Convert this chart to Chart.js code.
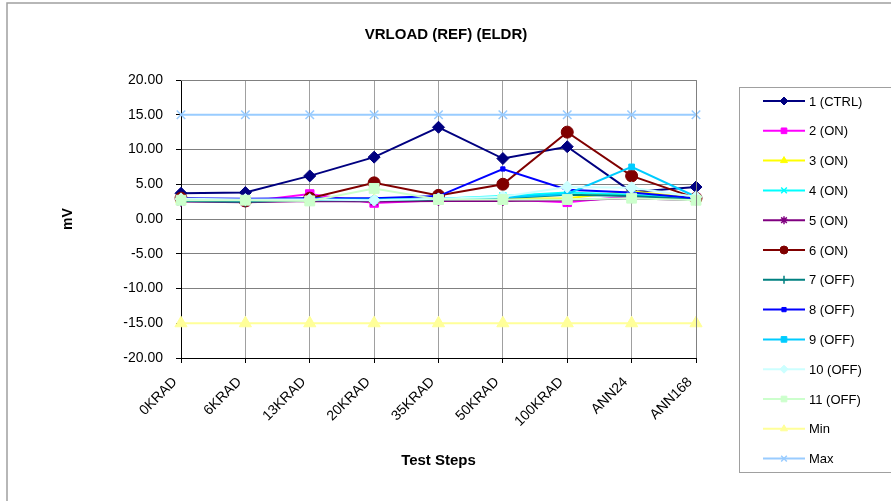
<!DOCTYPE html>
<html>
<head>
<meta charset="utf-8">
<script src="https://cdn.jsdelivr.net/npm/chart.js@4.4.1/dist/chart.umd.min.js"></script>
<style>
  html, body { margin: 0; padding: 0; background: #fff; }
  #wrap { position: relative; width: 891px; height: 501px; }
</style>
</head>
<body>
<div id="wrap"><canvas id="chart"></canvas></div>
<script>
const steps = ['0KRAD', '6KRAD', '13KRAD', '20KRAD', '35KRAD', '50KRAD', '100KRAD', 'ANN24', 'ANN168'];
const yTicks = [-20, -15, -10, -5, 0, 5, 10, 15, 20];

const ctrl1 = [3.7, 3.8, 6.2, 8.9, 13.2, 8.7, 10.4, 3.9, 4.6];
const on2   = [2.7, 2.5, 3.6, 2.3, 2.7, 2.8, 2.4, 3.3, 3.0];
const on3   = [2.8, 2.6, 2.8, 2.8, 2.8, 2.9, 3.0, 4.0, 3.0];
const on4   = [2.9, 2.8, 2.9, 2.7, 2.9, 3.3, 3.8, 3.5, 3.0];
const on5   = [2.5, 2.4, 2.6, 2.5, 2.6, 2.6, 2.7, 3.0, 2.7];
const on6   = [3.0, 2.6, 3.0, 5.2, 3.4, 5.0, 12.5, 6.2, 3.0];
const off7  = [2.6, 2.5, 2.7, 2.7, 2.8, 3.0, 3.5, 3.3, 2.8];
const off8  = [3.0, 2.9, 3.0, 3.0, 3.3, 7.2, 4.2, 3.8, 3.0];
const off9  = [2.8, 2.7, 2.8, 2.8, 2.9, 3.1, 3.6, 7.5, 3.2];
const off10 = [2.9, 2.8, 2.8, 2.7, 2.9, 3.2, 4.6, 4.5, 3.2];
const off11 = [2.7, 2.7, 2.6, 4.4, 2.8, 2.8, 2.8, 3.0, 2.7];
const minLimit = [-15, -15, -15, -15, -15, -15, -15, -15, -15];
const maxLimit = [15, 15, 15, 15, 15, 15, 15, 15, 15];

const FONT = "'Liberation Sans', Arial, sans-serif";

function series(label, data, color, style, radius, idx) {
  return {
    label: label,
    data: data,
    borderColor: color,
    backgroundColor: color,
    pointBackgroundColor: color,
    pointBorderColor: color,
    pointStyle: style,
    pointRadius: radius,
    pointBorderWidth: (style === 'crossRot' || style === 'cross' || style === 'star') ? 1.5 : 1,
    borderWidth: 2,
    tension: 0,
    fill: false,
    order: 50 - idx
  };
}

const datasets = [
  series('1 (CTRL)', ctrl1, '#000080', 'rectRot', 6, 0),
  series('2 (ON)', on2, '#ff00ff', 'rect', 6, 1),
  series('3 (ON)', on3, '#ffff00', 'triangle', 6, 2),
  series('4 (ON)', on4, '#00ffff', 'crossRot', 5, 3),
  series('5 (ON)', on5, '#800080', 'star', 5, 4),
  series('6 (ON)', on6, '#800000', 'circle', 6, 5),
  series('7 (OFF)', off7, '#008080', 'cross', 5, 6),
  series('8 (OFF)', off8, '#0000ff', 'rect', 3, 7),
  series('9 (OFF)', off9, '#00ccff', 'rect', 4, 8),
  series('10 (OFF)', off10, '#ccffff', 'rectRot', 6, 9),
  series('11 (OFF)', off11, '#ccffcc', 'rect', 7, 10),
  series('Min', minLimit, '#ffff99', 'triangle', 7, 11),
  series('Max', maxLimit, '#99ccff', 'crossRot', 6, 12)
];

// frame, title and boxed legend drawn on the canvas
const decor = {
  id: 'decor',
  beforeDraw(chart) {
    const ctx = chart.ctx;
    ctx.save();
    ctx.fillStyle = '#fff';
    ctx.fillRect(0, 0, chart.width, chart.height);
    ctx.strokeStyle = '#a0a0a0';
    ctx.lineWidth = 1.5;
    ctx.strokeRect(7, 3, chart.width + 10, chart.height + 10);
    ctx.restore();
  },
  afterDraw(chart) {
    const ctx = chart.ctx;
    const a = chart.chartArea;
    ctx.save();
    // plot border top/right
    ctx.strokeStyle = '#808080';
    ctx.lineWidth = 1;
    ctx.beginPath();
    ctx.moveTo(a.left, a.top + 0.5);
    ctx.lineTo(a.right + 0.5, a.top + 0.5);
    ctx.lineTo(a.right + 0.5, a.bottom);
    ctx.stroke();

    ctx.fillStyle = '#000';
    ctx.font = 'bold 15px ' + FONT;
    ctx.textAlign = 'center';
    ctx.textBaseline = 'middle';
    ctx.fillText('VRLOAD (REF) (ELDR)', 446, 35);

    // legend
    ctx.strokeStyle = '#a0a0a0';
    ctx.lineWidth = 1;
    ctx.strokeRect(739.5, 87.5, 160, 385);
    ctx.font = '13px ' + FONT;
    ctx.textAlign = 'left';
    chart.data.datasets.forEach((ds, i) => {
      const y = 101 + i * 29.8;
      ctx.strokeStyle = ds.borderColor;
      ctx.lineWidth = 2;
      ctx.beginPath();
      ctx.moveTo(763, y);
      ctx.lineTo(805, y);
      ctx.stroke();
      ctx.fillStyle = ds.pointBackgroundColor;
      ctx.lineWidth = ds.pointBorderWidth;
      if (Chart.helpers && Chart.helpers.drawPoint) {
        Chart.helpers.drawPoint(ctx, {
          pointStyle: ds.pointStyle,
          radius: Math.min(ds.pointRadius, 4),
          rotation: 0,
          borderWidth: ds.pointBorderWidth
        }, 784, y);
      }
      ctx.fillStyle = '#000';
      ctx.fillText(ds.label, 809, y + 1);
    });
    ctx.restore();
  }
};

new Chart(document.getElementById('chart'), {
  type: 'line',
  data: { labels: steps, datasets: datasets },
  options: {
    responsive: true,
    maintainAspectRatio: false,
    animation: false,
    layout: { padding: { top: 80, right: 195, left: 0, bottom: 0 } },
    plugins: {
      legend: { display: false },
      title: { display: false },
      tooltip: { enabled: false }
    },
    scales: {
      x: {
        offset: false,
        afterFit: s => { s.height = 143; },
        grid: { color: '#a0a0a0', tickColor: '#000', tickLength: 5, lineWidth: 1 },
        border: { color: '#000', width: 1 },
        ticks: {
          color: '#000',
          font: { family: FONT, size: 14 },
          minRotation: 45,
          maxRotation: 45,
          autoSkip: false,
          padding: 11,
          labelOffset: -6
        },
        title: {
          display: true,
          text: 'Test Steps',
          color: '#000',
          font: { family: FONT, size: 15, weight: 'bold' },
          padding: { top: 0, bottom: 31 }
        }
      },
      y: {
        min: -20,
        max: 20,
        afterFit: s => { s.width = 181; },
        afterBuildTicks: s => { s.ticks = yTicks.map(v => ({ value: v })); },
        grid: { color: '#808080', tickColor: '#000', tickLength: 5, lineWidth: 1 },
        border: { color: '#000', width: 1 },
        ticks: {
          color: '#000',
          font: { family: FONT, size: 14 },
          padding: 13,
          callback: v => v.toFixed(2)
        },
        title: {
          display: true,
          text: 'mV',
          color: '#000',
          font: { family: FONT, size: 14, weight: 'bold' },
          padding: { top: 60, bottom: 0 }
        }
      }
    }
  },
  plugins: [decor]
});
</script>
</body>
</html>
